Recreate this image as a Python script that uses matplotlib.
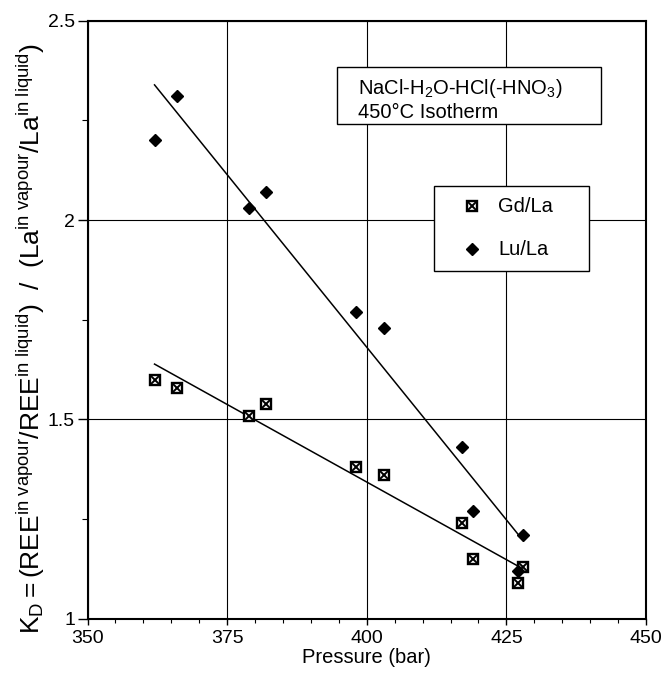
import matplotlib
matplotlib.use("Agg")
import matplotlib.pyplot as plt
import numpy as np
from matplotlib.patches import Rectangle
from matplotlib.ticker import MultipleLocator

plt.rcParams["font.family"] = ["Liberation Sans", "DejaVu Sans"]
plt.rcParams["mathtext.fontset"] = "custom"
plt.rcParams["mathtext.rm"] = "Liberation Sans"
plt.rcParams["mathtext.it"] = "Liberation Sans:italic"

# ---------- data ----------

pressure = [362, 366, 379, 382, 398, 403, 417, 419, 427, 428]
kd_gd_la = [1.60, 1.58, 1.51, 1.54, 1.38, 1.36, 1.24, 1.15, 1.09, 1.13]
kd_lu_la = [2.20, 2.31, 2.03, 2.07, 1.77, 1.73, 1.43, 1.27, 1.12, 1.21]

x_ticks = [350, 375, 400, 425, 450]
y_ticks = [1, 1.5, 2, 2.5]
y_tick_labels = ["1", "1.5", "2", "2.5"]


def fit_line(x, y):
    # Least-squares line drawn across the measured pressure range.
    slope, intercept = np.polyfit(x, y, 1)
    xs = np.array([min(x), max(x)])
    return xs, slope * xs + intercept


# ---------- figure ----------

fig = plt.figure(figsize=(6.64, 6.77), dpi=100)
ax = fig.add_axes([0.1318, 0.0857, 0.8411, 0.8840])

ax.set_xlim(350, 450)
ax.set_ylim(1, 2.5)
ax.set_xticks(x_ticks)
ax.set_yticks(y_ticks)
ax.set_yticklabels(y_tick_labels)
ax.xaxis.set_minor_locator(MultipleLocator(5))
ax.yaxis.set_minor_locator(MultipleLocator(0.25))
ax.grid(True, which="major", color="black", linewidth=0.8)
ax.set_axisbelow(True)

ax.tick_params(axis="both", which="major", labelsize=14, direction="out", width=1, color="black")
ax.tick_params(axis="x", which="major", length=4, pad=4)
ax.tick_params(axis="y", which="major", length=7, pad=2)
ax.tick_params(axis="x", which="minor", length=3, width=0.8)
ax.tick_params(axis="y", which="minor", length=4, width=0.8)
for spine in ax.spines.values():
    spine.set_linewidth(1.5)

# fitted trends
for series in (kd_lu_la, kd_gd_la):
    xs, ys = fit_line(pressure, series)
    ax.plot(xs, ys, color="black", linewidth=1.1, zorder=3)

# Gd/La: boxed cross, Lu/La: filled diamond
ax.plot(pressure, kd_gd_la, linestyle="none", marker="s", ms=7, mfc="white",
        mec="black", mew=1.7, zorder=4)
ax.plot(pressure, kd_gd_la, linestyle="none", marker="x", ms=6, mec="black",
        mew=1.4, zorder=5)
ax.plot(pressure, kd_lu_la, linestyle="none", marker="D", ms=6.2, mfc="black",
        mec="black", zorder=4)

ax.set_xlabel("Pressure (bar)", fontsize=14.5, labelpad=1)
ax.set_ylabel(r"$\mathrm{K_D = (REE^{in\ vapour}/REE^{in\ liquid})\ \ /\ \ (La^{in\ vapour}/La^{in\ liquid})}$",
              fontsize=19)
ax.yaxis.set_label_coords(-0.072, 0.468)

# system description box
ax.add_patch(Rectangle((0.4467, 0.827), 0.4723, 0.0953, transform=ax.transAxes,
                       facecolor="white", edgecolor="black", linewidth=1.0, zorder=6))
ax.text(0.484, 0.887, r"NaCl-H$_2$O-HCl(-HNO$_3$)", transform=ax.transAxes,
        fontsize=14.5, va="center", ha="left", zorder=7)
ax.text(0.484, 0.847, "450°C Isotherm", transform=ax.transAxes,
        fontsize=14.5, va="center", ha="left", zorder=7)

# key
ax.add_patch(Rectangle((0.620, 0.582), 0.278, 0.1415, transform=ax.transAxes,
                       facecolor="white", edgecolor="black", linewidth=1.0, zorder=6))
ax.plot([0.689], [0.690], transform=ax.transAxes, linestyle="none", marker="s",
        ms=7, mfc="white", mec="black", mew=1.7, zorder=7)
ax.plot([0.689], [0.690], transform=ax.transAxes, linestyle="none", marker="x",
        ms=6, mec="black", mew=1.4, zorder=8)
ax.plot([0.689], [0.618], transform=ax.transAxes, linestyle="none", marker="D",
        ms=6.2, mfc="black", mec="black", zorder=7)
ax.text(0.735, 0.690, "Gd/La", transform=ax.transAxes, fontsize=14.5,
        va="center", ha="left", zorder=8)
ax.text(0.735, 0.618, "Lu/La", transform=ax.transAxes, fontsize=14.5,
        va="center", ha="left", zorder=8)

fig.savefig("out.png", dpi=100)
